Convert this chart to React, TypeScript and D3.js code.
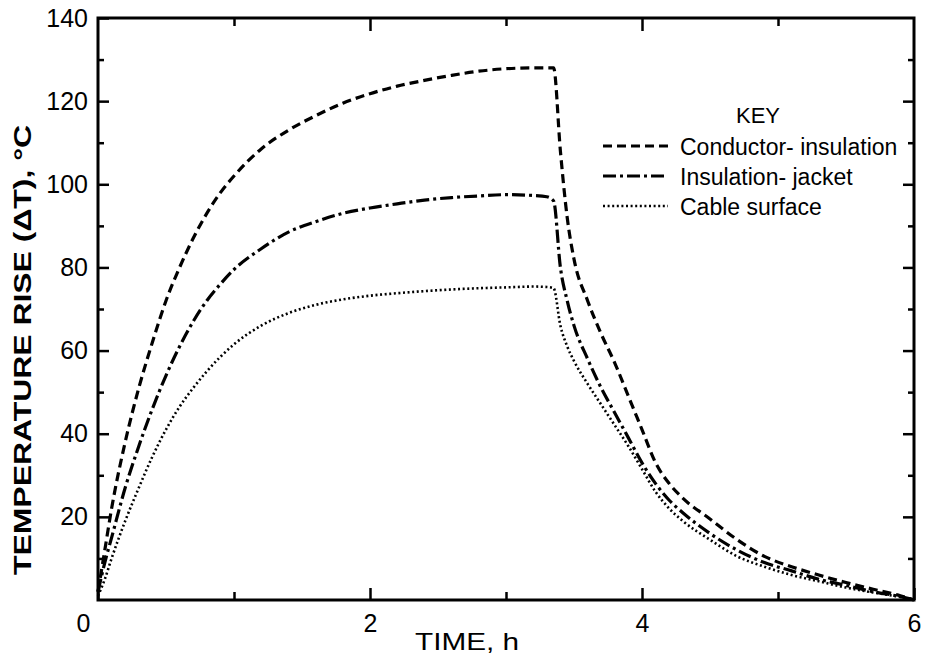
import React from 'react';
import * as d3 from 'd3';

// time, h
const timeH = [0, 0.05, 0.1, 0.2, 0.3, 0.4, 0.5, 0.6, 0.7, 0.8, 0.9, 1.0, 1.2, 1.4, 1.6, 1.8, 2.0, 2.2, 2.4, 2.6, 2.8, 3.0, 3.2, 3.3, 3.35, 3.4, 3.45, 3.5, 3.6, 3.7, 3.8, 3.9, 4.0, 4.1, 4.2, 4.3, 4.5, 4.7, 4.9, 5.1, 5.3, 5.5, 5.7, 5.9, 6.0];

const conductorInsulation = [2, 12, 22, 38, 51, 62, 72, 80, 87, 93, 98, 102, 108.5, 113, 116.5, 119.5, 121.8, 123.6, 125, 126.2, 127.2, 127.8, 128, 128, 128, 108, 92, 82, 72, 64, 57, 49, 41, 33, 28, 24.5, 19.5, 14.5, 10.5, 8, 6, 4.2, 2.6, 1, 0];
const insulationJacket = [2, 9, 15, 27, 37, 46, 54, 61, 67, 72, 76, 79.5, 84.5, 88.5, 91, 93, 94.3, 95.3, 96.2, 96.8, 97.2, 97.5, 97.3, 97, 96, 80, 72, 66, 58, 51, 45, 39, 33, 28, 24, 21, 16, 12, 9, 7, 5, 3.5, 2, 0.8, 0];
const cableSurface = [1, 5, 10, 19, 27, 34.5, 41, 46.5, 51, 55, 58.5, 61.5, 66, 69, 71, 72.3, 73.2, 73.8, 74.3, 74.7, 75, 75.2, 75.4, 75.3, 75, 66, 61, 57.5, 52, 47, 42, 37, 31.5, 26, 22, 19, 14.5, 10.5, 8, 6, 4.5, 3, 1.8, 0.7, 0];

const seriesNames = ['Conductor- insulation', 'Insulation- jacket', 'Cable surface'];
const seriesValues = [conductorInsulation, insulationJacket, cableSurface];
const seriesDash = ['9,5', '13,4,3,4', '2,2.6'];

const xMajorTicks = [0, 2, 4, 6];
const xMinorTicks = [1, 3, 5];
const yMajorTicks = [20, 40, 60, 80, 100, 120, 140];
const yMinorTicks = [10, 30, 50, 70, 90, 110, 130];

const W = 935;
const H = 665;
const M = { left: 98, right: 21, top: 18, bottom: 65 };

export default function App() {
  const ref = React.useRef<SVGSVGElement>(null);

  React.useEffect(() => {
    const svg = d3.select(ref.current);
    svg.selectAll('*').remove();

    const x = d3.scaleLinear().domain([0, 6]).range([M.left, W - M.right]);
    const y = d3.scaleLinear().domain([0, 140]).range([H - M.bottom, M.top]);
    const font = "'Liberation Sans', Arial, sans-serif";

    const g = svg.append('g');

    // frame
    g.append('rect')
      .attr('x', x(0)).attr('y', y(140))
      .attr('width', x(6) - x(0)).attr('height', y(0) - y(140))
      .attr('fill', 'none').attr('stroke', '#000').attr('stroke-width', 3);

    const styleAxis = (sel: any) => {
      sel.select('.domain').remove();
      sel.selectAll('line').attr('stroke', '#000').attr('stroke-width', 2.5);
      sel.selectAll('text').attr('font-family', font).attr('font-size', 25).attr('fill', '#000');
    };

    // left axis
    g.append('g').attr('transform', `translate(${x(0)},0)`)
      .call(d3.axisLeft(y).tickValues(yMajorTicks).tickSize(-11).tickPadding(10).tickFormat(d3.format('d')))
      .call(styleAxis);
    g.append('g').attr('transform', `translate(${x(0)},0)`)
      .call(d3.axisLeft(y).tickValues(yMinorTicks).tickSize(-6).tickFormat(() => ''))
      .call(styleAxis);
    // right axis
    g.append('g').attr('transform', `translate(${x(6)},0)`)
      .call(d3.axisRight(y).tickValues(yMajorTicks.filter(v => v < 140)).tickSize(-11).tickFormat(() => ''))
      .call(styleAxis);
    g.append('g').attr('transform', `translate(${x(6)},0)`)
      .call(d3.axisRight(y).tickValues(yMinorTicks).tickSize(-6).tickFormat(() => ''))
      .call(styleAxis);

    // bottom axis
    const bottom = g.append('g').attr('transform', `translate(0,${y(0)})`)
      .call(d3.axisBottom(x).tickValues(xMajorTicks).tickSize(-12).tickPadding(9).tickFormat(d3.format('d')))
      .call(styleAxis);
    bottom.selectAll('text').attr('dy', '0.9em');
    bottom.selectAll('.tick').filter((d: any) => d === 0).select('text').attr('dx', -15);
    g.append('g').attr('transform', `translate(0,${y(0)})`)
      .call(d3.axisBottom(x).tickValues(xMinorTicks).tickSize(-8).tickFormat(() => ''))
      .call(styleAxis);
    // top axis
    g.append('g').attr('transform', `translate(0,${y(140)})`)
      .call(d3.axisTop(x).tickValues([2, 4]).tickSize(-13).tickFormat(() => ''))
      .call(styleAxis);
    g.append('g').attr('transform', `translate(0,${y(140)})`)
      .call(d3.axisTop(x).tickValues([1, 3, 5]).tickSize(-8).tickFormat(() => ''))
      .call(styleAxis);

    // axis titles
    g.append('text')
      .attr('x', 467).attr('y', 650)
      .attr('text-anchor', 'middle')
      .attr('font-family', font).attr('font-size', 24)
      .attr('textLength', 104).attr('lengthAdjust', 'spacingAndGlyphs')
      .text('TIME, h');
    g.append('text')
      .attr('transform', 'translate(31,350) rotate(-90)')
      .attr('text-anchor', 'middle')
      .attr('font-family', font).attr('font-size', 24).attr('font-weight', 'bold')
      .attr('textLength', 450).attr('lengthAdjust', 'spacingAndGlyphs')
      .text('TEMPERATURE  RISE (ΔT),  °C');

    // curves
    const line = d3.line<number>()
      .x((_, i) => x(timeH[i]))
      .y(d => y(d))
      .curve(d3.curveMonotoneX);

    seriesValues.forEach((vals, k) => {
      g.append('path')
        .datum(vals)
        .attr('d', line)
        .attr('fill', 'none')
        .attr('stroke', '#000')
        .attr('stroke-width', k === 2 ? 2.6 : 3.2)
        .attr('stroke-dasharray', seriesDash[k]);
    });

    // legend
    const lg = g.append('g');
    lg.append('text')
      .attr('x', 758).attr('y', 123)
      .attr('text-anchor', 'middle')
      .attr('font-family', font).attr('font-size', 22)
      .text('KEY');
    seriesNames.forEach((name, k) => {
      const yy = 146 + k * 30;
      lg.append('line')
        .attr('x1', 603).attr('x2', 668)
        .attr('y1', yy).attr('y2', yy)
        .attr('stroke', '#000')
        .attr('stroke-width', k === 2 ? 2.4 : 3)
        .attr('stroke-dasharray', seriesDash[k]);
      lg.append('text')
        .attr('x', 680).attr('y', yy + 9)
        .attr('font-family', font).attr('font-size', 23)
        .text(name);
    });
  }, []);

  return (
    <svg
      ref={ref}
      width={W}
      height={H}
      style={{ position: 'absolute', left: 0, top: 0, background: '#fff' }}
    />
  );
}
